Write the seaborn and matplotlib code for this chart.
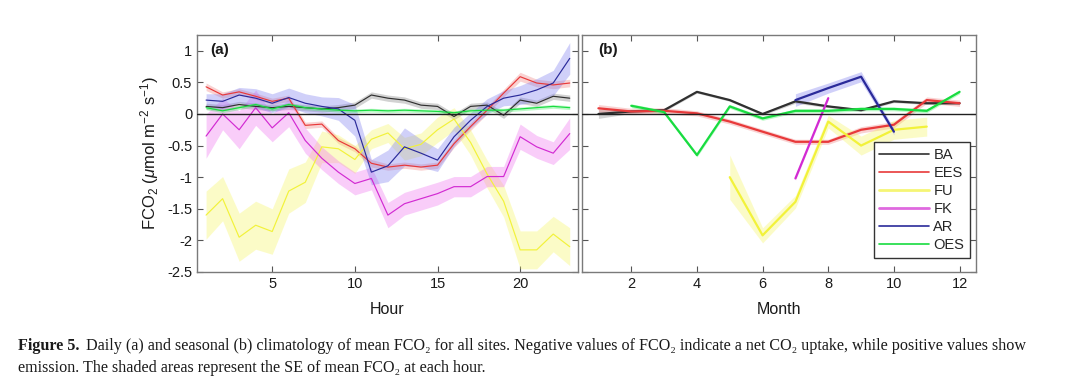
import numpy as np
import pandas as pd
import matplotlib
matplotlib.use("Agg")
import matplotlib.pyplot as plt
from matplotlib.ticker import FormatStrFormatter
import seaborn as sns

#Sites and colours
sites = ["BA", "EES", "FU", "FK", "AR", "OES"]
colors = {"BA": "#303030", "EES": "#e8393a", "FU": "#f2f23a", "FK": "#d22ad2",
          "AR": "#2a2a9a", "OES": "#18dc40"}
shade = {"BA": "#808080", "EES": "#f08080", "FU": "#f6f660", "FK": "#f070f0",
         "AR": "#7a7af0", "OES": "#40f060"}

#Panel (a): hourly mean FCO2 and SE
hours = list(range(1, 24))
hour_mean = {
    "BA":  [0.12, 0.10, 0.15, 0.12, 0.10, 0.12, 0.10, 0.08, 0.10, 0.14, 0.30, 0.25,
            0.22, 0.14, 0.12, -0.04, 0.12, 0.14, -0.02, 0.22, 0.17, 0.28, 0.25],
    "EES": [0.43, 0.30, 0.35, 0.28, 0.20, 0.25, -0.18, -0.16, -0.42, -0.55, -0.78, -0.84,
            -0.81, -0.84, -0.81, -0.47, -0.20, 0.06, 0.33, 0.59, 0.49, 0.46, 0.49],
    "FU":  [-1.60, -1.34, -1.95, -1.76, -1.86, -1.22, -1.08, -0.52, -0.55, -0.72, -0.40, -0.30,
            -0.55, -0.48, -0.25, -0.08, -0.45, -0.95, -1.38, -2.15, -2.15, -1.90, -2.10],
    "FK":  [-0.35, 0.00, -0.25, 0.10, -0.22, 0.02, -0.42, -0.70, -0.92, -1.10, -1.02, -1.60,
            -1.42, -1.34, -1.26, -1.15, -1.15, -0.99, -0.99, -0.36, -0.52, -0.62, -0.31],
    "AR":  [0.22, 0.20, 0.30, 0.25, 0.17, 0.26, 0.17, 0.12, 0.08, -0.10, -0.92, -0.82,
            -0.52, -0.62, -0.73, -0.36, -0.10, 0.12, 0.25, 0.30, 0.38, 0.49, 0.88],
    "OES": [0.10, 0.05, 0.10, 0.15, 0.08, 0.15, 0.10, 0.08, 0.06, 0.05, 0.06, 0.05,
            0.06, 0.05, 0.04, 0.02, 0.05, 0.06, 0.06, 0.08, 0.10, 0.12, 0.10],
}
hour_se = {
    "BA":  [0.05] * 23,
    "EES": [0.06, 0.05, 0.05, 0.05, 0.05, 0.05, 0.05, 0.05, 0.05, 0.05, 0.06, 0.05,
            0.05, 0.05, 0.05, 0.06, 0.06, 0.06, 0.06, 0.07, 0.06, 0.06, 0.06],
    "FU":  [0.38, 0.35, 0.38, 0.38, 0.36, 0.35, 0.32, 0.25, 0.22, 0.22, 0.15, 0.15,
            0.18, 0.18, 0.20, 0.18, 0.20, 0.22, 0.25, 0.30, 0.30, 0.28, 0.30],
    "FK":  [0.35, 0.25, 0.30, 0.28, 0.22, 0.22, 0.20, 0.18, 0.18, 0.18, 0.18, 0.20,
            0.18, 0.18, 0.18, 0.16, 0.16, 0.16, 0.16, 0.20, 0.18, 0.18, 0.25],
    "AR":  [0.10, 0.12, 0.12, 0.15, 0.15, 0.15, 0.15, 0.15, 0.18, 0.25, 0.20, 0.25,
            0.30, 0.22, 0.18, 0.15, 0.12, 0.12, 0.12, 0.15, 0.18, 0.20, 0.25],
    "OES": [0.03] * 23,
}

#Panel (b): monthly mean FCO2 and SE (None = no data)
months = list(range(1, 13))
month_mean = {
    "BA":  [0.00, 0.04, 0.06, 0.35, 0.22, 0.00, 0.20, 0.12, 0.06, 0.20, 0.17, 0.17],
    "EES": [0.09, 0.04, 0.05, 0.01, -0.12, -0.28, -0.44, -0.44, -0.25, -0.17, 0.22, 0.17],
    "FU":  [None, None, None, None, -1.00, -1.92, -1.39, -0.12, -0.50, -0.25, -0.20, None],
    "FK":  [None, None, None, None, None, None, -1.02, 0.25, None, None, None, None],
    "AR":  [None, None, None, None, None, None, 0.22, 0.41, 0.59, -0.28, None, None],
    "OES": [None, 0.13, 0.03, -0.65, 0.12, -0.07, 0.05, 0.05, 0.08, 0.08, 0.05, 0.35],
}
month_se = {
    "BA":  [0.07, 0.03, 0.02, 0.02, 0.02, 0.02, 0.03, 0.02, 0.02, 0.02, 0.02, 0.02],
    "EES": [0.06, 0.05, 0.05, 0.04, 0.04, 0.04, 0.04, 0.04, 0.05, 0.05, 0.05, 0.05],
    "FU":  [None, None, None, None, 0.35, 0.12, 0.10, 0.10, 0.15, 0.15, 0.15, None],
    "FK":  [None, None, None, None, None, None, 0.03, 0.03, None, None, None, None],
    "AR":  [None, None, None, None, None, None, 0.10, 0.08, 0.08, 0.05, None, None],
    "OES": [None, 0.03, 0.03, 0.03, 0.03, 0.03, 0.03, 0.03, 0.03, 0.03, 0.03, 0.03],
}

#Long tables for seaborn
def make_long(xvals, means, ses, xname):
    rows = []
    for s in sites:
        for x, m, e in zip(xvals, means[s], ses[s]):
            if m is not None:
                rows.append({xname: x, "site": s, "FCO2": m, "SE": e})
    return pd.DataFrame(rows)

DFhour = make_long(hours, hour_mean, hour_se, "Hour")
DFmonth = make_long(months, month_mean, month_se, "Month")

sns.set_theme(style="white")
plt.rcParams["font.family"] = ["Liberation Sans", "DejaVu Sans"]
plt.rcParams["mathtext.fontset"] = "custom"
plt.rcParams["mathtext.rm"] = "Liberation Sans"
plt.rcParams["mathtext.it"] = "Liberation Sans:italic"
plt.rcParams["axes.unicode_minus"] = False

fig = plt.figure(figsize=(10.8, 3.87), dpi=100)
axA = fig.add_axes([0.1824, 0.2972, 0.3528, 0.6124])
axB = fig.add_axes([0.5389, 0.2972, 0.3648, 0.6124])

def draw_panel(ax, DF, xname, lw):
    for s in sites:
        d = DF[DF["site"] == s]
        ax.fill_between(d[xname], d["FCO2"] - d["SE"], d["FCO2"] + d["SE"],
                        color=shade[s], alpha=0.35, linewidth=0)
    sns.lineplot(data=DF, x=xname, y="FCO2", hue="site", hue_order=sites,
                 palette=colors, errorbar=None, linewidth=lw, ax=ax, legend=False)
    ax.axhline(0, color="#202020", linewidth=1.0, zorder=5)
    ax.set_ylim(-2.5, 1.25)
    ax.set_yticks(np.arange(-2.5, 1.01, 0.5))
    ax.yaxis.set_major_formatter(FormatStrFormatter("%g"))
    ax.tick_params(direction="in", length=4, top=True, right=True, bottom=True, left=True,
                   labelsize=10.5, colors="#555555", labelcolor="#1a1a1a", width=0.8)
    for sp in ax.spines.values():
        sp.set_color("#7a7a7a")
        sp.set_linewidth(1.0)
    ax.set_ylabel("")

draw_panel(axA, DFhour, "Hour", 0.85)
axA.set_xlim(0.45, 23.5)
axA.set_xticks([5, 10, 15, 20])
axA.set_xlabel("Hour", fontsize=11.5, color="#1a1a1a", labelpad=8)
axA.set_ylabel("FCO$_2$ ($\\mu$mol m$^{-2}$ s$^{-1}$)", fontsize=12, color="#1a1a1a", labelpad=4)
axA.text(0.035, 0.935, "(a)", transform=axA.transAxes, fontsize=11, fontweight="bold",
         va="center", ha="left", color="#1a1a1a")

draw_panel(axB, DFmonth, "Month", 1.6)
axB.set_xlim(0.5, 12.5)
axB.set_xticks([2, 4, 6, 8, 10, 12])
axB.tick_params(labelleft=False)
axB.set_xlabel("Month", fontsize=11.5, color="#1a1a1a", labelpad=8)
axB.text(0.04, 0.935, "(b)", transform=axB.transAxes, fontsize=11, fontweight="bold",
         va="center", ha="left", color="#1a1a1a")

#Legend
handles = [plt.Line2D([], [], color=colors[s], linewidth=1.2 if s not in ("FU", "FK") else 2.0,
                      alpha=1.0 if s not in ("FU", "FK") else 0.7) for s in sites]
leg = axB.legend(handles, sites, loc="lower right", bbox_to_anchor=(0.985, 0.059),
                 borderaxespad=0, fontsize=10.5, handlelength=3.4, handletextpad=0.3,
                 labelspacing=0.28, borderpad=0.4, fancybox=False, framealpha=1)
leg.get_frame().set_edgecolor("#333333")
leg.get_frame().set_linewidth(1.0)

#Caption
serif = ["Liberation Serif", "DejaVu Serif"]
cap_size = 11.6
t1 = fig.text(0.017, 0.095, "Figure 5.", fontsize=cap_size, family=serif, fontweight="bold",
              color="#1a1a1a")
fig.canvas.draw()
bb = t1.get_window_extent(renderer=fig.canvas.get_renderer())
x2 = (bb.x1 + 6) / fig.bbox.width
fig.text(x2, 0.095,
         "Daily (a) and seasonal (b) climatology of mean FCO\u2082 for all sites. "
         "Negative values of FCO\u2082 indicate a net CO\u2082 uptake, while positive values show",
         fontsize=cap_size, family=serif, color="#1a1a1a")
fig.text(0.017, 0.038, "emission. The shaded areas represent the SE of mean FCO\u2082 at each hour.",
         fontsize=cap_size, family=serif, color="#1a1a1a")

fig.savefig("out.png", dpi=100)
